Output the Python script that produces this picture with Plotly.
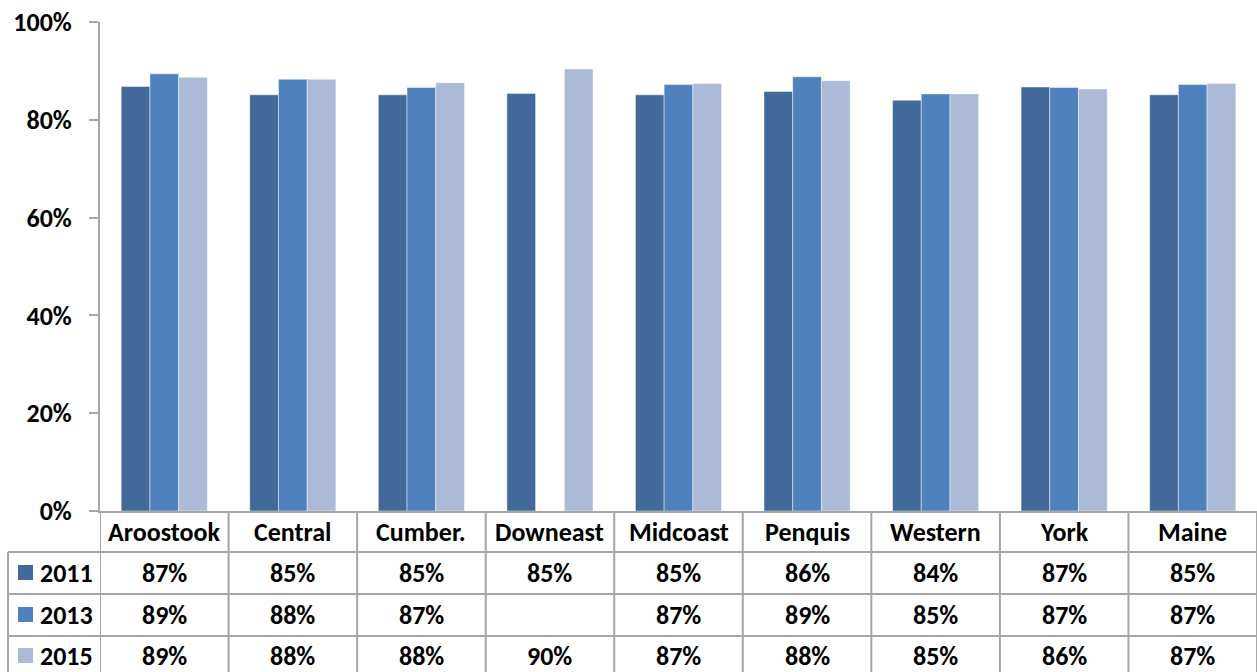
import plotly.graph_objects as go

categories = ["Aroostook", "Central", "Cumber.", "Downeast", "Midcoast", "Penquis", "Western", "York", "Maine"]
years = ["2011", "2013", "2015"]
v2011 = [86.8, 85.1, 85.1, 85.4, 85.1, 85.8, 84.0, 86.7, 85.1]
v2013 = [89.4, 88.3, 86.6, None, 87.2, 88.8, 85.3, 86.6, 87.2]
v2015 = [88.7, 88.3, 87.6, 90.4, 87.4, 88.0, 85.3, 86.3, 87.4]
series = [v2011, v2013, v2015]
colors = ["#41699A", "#4F81BD", "#ABBAD7"]
y_ticks = [0, 20, 40, 60, 80, 100]
y_tick_labels = ["0%", "20%", "40%", "60%", "80%", "100%"]

W, H = 1257, 672
FONT = "Calibri, Carlito, Lato, sans-serif"
FS = 26
GRID = "#A6A6A6"

def py(p):  # pixel y -> paper
    return 1 - p / H

def px(p):
    return p / W

fig = go.Figure()
for name, vals, col in zip(years, series, colors):
    fig.add_trace(go.Bar(
        x=categories, y=vals, name=name,
        marker=dict(color=col, line=dict(color="rgba(255,255,255,0.45)", width=1)),
        showlegend=False,
    ))

annotations = []
shapes = []
n = len(categories)

# category header row
for c in categories:
    annotations.append(dict(x=c, xref="x", y=py(532), yref="paper", text=f"<b>{c}</b>",
                            showarrow=False, font=dict(family=FONT, size=FS, color="black"),
                            xanchor="center", yanchor="middle"))
# value rows
row_centers = [573, 615, 656]
for r, (name, vals, col) in enumerate(zip(years, series, colors)):
    yc = row_centers[r]
    for c, v in zip(categories, vals):
        if v is None:
            continue
        annotations.append(dict(x=c, xref="x", y=py(yc), yref="paper", text=f"<b>{round(v)}%</b>",
                                showarrow=False, font=dict(family=FONT, size=FS, color="black"),
                                xanchor="center", yanchor="middle"))
    annotations.append(dict(x=px(38), xref="paper", y=py(yc), yref="paper", text=f"<b>{name}</b>",
                            showarrow=False, font=dict(family=FONT, size=FS, color="black"),
                            xanchor="left", yanchor="middle"))
    shapes.append(dict(type="rect", xref="paper", yref="paper",
                       x0=px(18), x1=px(33), y0=py(yc + 7), y1=py(yc - 8),
                       fillcolor=col, line=dict(width=0)))

# table grid
row_lines = [552, 594, 636]
for yl in row_lines:
    shapes.append(dict(type="line", xref="paper", yref="paper", x0=px(8), x1=1,
                       y0=py(yl), y1=py(yl), line=dict(color=GRID, width=2)))
shapes.append(dict(type="line", xref="paper", yref="paper", x0=px(8), x1=px(8),
                   y0=py(552), y1=0, line=dict(color=GRID, width=2)))
for i in range(n + 1):
    shapes.append(dict(type="line", xref="x", yref="paper", x0=i - 0.5, x1=i - 0.5,
                       y0=py(511), y1=0, line=dict(color=GRID, width=2)))

fig.update_layout(
    width=W, height=H, autosize=False,
    margin=dict(l=0, r=0, t=0, b=0, pad=0, autoexpand=False),
    paper_bgcolor="white", plot_bgcolor="white",
    barmode="group", bargap=0.33, bargroupgap=0,
    annotations=annotations, shapes=shapes,
    xaxis=dict(domain=[px(100), 1], showticklabels=False, ticks="", automargin=False,
               showline=True, linecolor=GRID, linewidth=2, showgrid=False,
               range=[-0.5, n - 0.5], fixedrange=True),
    yaxis=dict(domain=[py(511), py(22)], range=[0, 100], tickvals=y_ticks,
               ticktext=[f"<b>{t}</b>" for t in y_tick_labels], ticks="outside",
               ticklen=9, tickcolor=GRID, automargin=False,
               tickwidth=2, showline=True, linecolor=GRID, linewidth=2,
               showgrid=False, zeroline=False, ticklabelstandoff=12,
               tickfont=dict(family=FONT, size=FS, color="black"), fixedrange=True),
    font=dict(family=FONT, size=FS, color="black"),
)

post = """
var gd = document.getElementById('{plot_id}');
document.documentElement.style.margin = '0';
document.documentElement.style.overflow = 'hidden';
document.body.style.margin = '0';
document.body.style.overflow = 'hidden';
gd.style.position = 'fixed';
gd.style.top = '0px';
gd.style.left = '0px';
"""

fig.write_html("out.html", post_script=post, config={"displayModeBar": False})
